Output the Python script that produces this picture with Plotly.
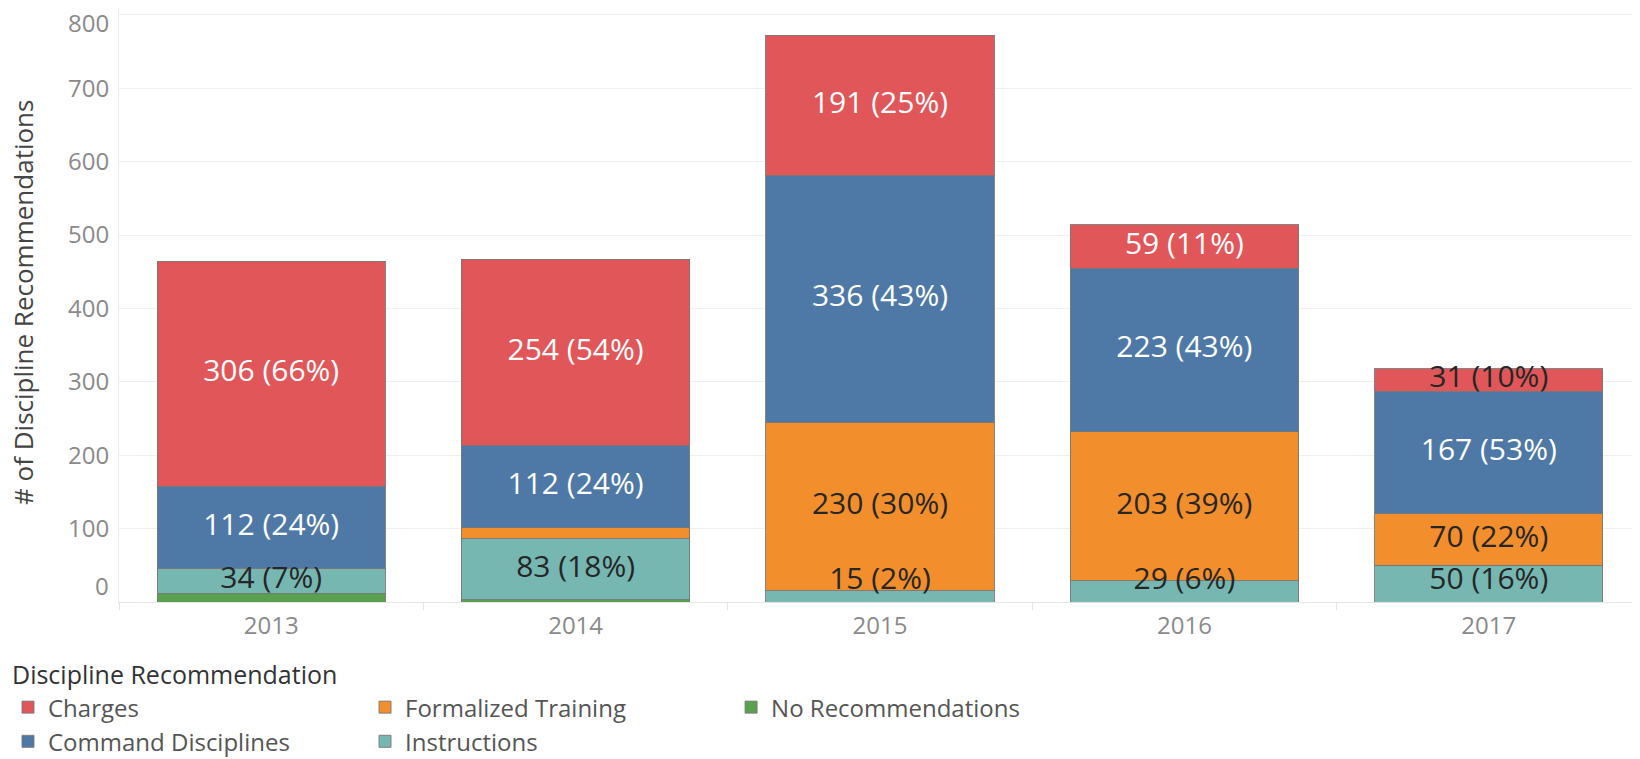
import plotly.graph_objects as go

# ---- data ----
years = ["2013", "2014", "2015", "2016", "2017"]

no_rec = [12, 3, None, None, None]
instructions = [34, 83, 15, 29, 50]
formalized = [None, 15, 230, 203, 70]
command = [112, 112, 336, 223, 167]
charges = [306, 254, 191, 59, 31]

# percentage labels as shown on the bars (None = no label shown)
pct_no_rec = [None, None, None, None, None]
pct_instructions = [7, 18, 2, 6, 16]
pct_formalized = [None, None, 30, 39, 22]
pct_command = [24, 24, 43, 43, 53]
pct_charges = [66, 54, 25, 11, 10]

y_ticks = [0, 100, 200, 300, 400, 500, 600, 700, 800]

# ---- styling ----
FONT = "Open Sans"
TICK_FONT = dict(family=FONT, size=24, color="#8a8a8a")
series = [
    ("No Recommendations", no_rec, pct_no_rec, "#59A14F", "legend3"),
    ("Instructions", instructions, pct_instructions, "#76B7B2", "legend2"),
    ("Formalized Training", formalized, pct_formalized, "#F28E2B", "legend2"),
    ("Command Disciplines", command, pct_command, "#4E79A7", "legend"),
    ("Charges", charges, pct_charges, "#E15759", "legend"),
]
light_text = {"Command Disciplines", "Charges"}

fig = go.Figure()
for name, vals, _, color, lg in series:
    fig.add_trace(go.Bar(
        x=years, y=vals, name=name, legend=lg,
        marker=dict(color=color, line=dict(color="rgba(120,120,120,0.9)", width=1)),
        hoverinfo="skip",
    ))

# labels centred in each segment, kept above the axis for small bottom segments
base = [0] * len(years)
lx, ly, lt, lc = [], [], [], []
for name, vals, pcts, color, lg in series:
    for i, v in enumerate(vals):
        if v is None:
            continue
        if pcts[i] is not None:
            mid = base[i] + v / 2
            lx.append(years[i])
            ly.append(max(mid, 28))
            lt.append(f"{v} ({pcts[i]}%)")
            dark = name not in light_text or (name == "Charges" and v < 40)
            lc.append("#262626" if dark else "#ffffff")
        base[i] += v

fig.add_trace(go.Scatter(
    x=lx, y=ly, text=lt, mode="text", showlegend=False, hoverinfo="skip",
    textfont=dict(family=FONT, size=30, color=lc), cliponaxis=False,
))

leg_common = dict(xref="container", yref="container", y=0.108,
                  xanchor="left", yanchor="top", orientation="v",
                  traceorder="reversed", font=dict(size=24, color="#555555"),
                  bgcolor="rgba(0,0,0,0)")

# edge tick labels are nudged inward (as in the reference) via annotations
y_lo, y_hi = y_ticks[0], y_ticks[-1]
tick_text = ["" if t in (y_lo, y_hi) else str(t) for t in y_ticks]
edge_labels = [
    dict(text=str(y_hi), xref="paper", yref="y", x=0, y=y_hi, xanchor="right",
         yanchor="middle", xshift=-8, yshift=-8, showarrow=False, font=TICK_FONT),
    dict(text=str(y_lo), xref="paper", yref="y", x=0, y=y_lo, xanchor="right",
         yanchor="middle", xshift=-8, yshift=17, showarrow=False, font=TICK_FONT),
]

fig.update_layout(
    width=1640, height=759,
    margin=dict(l=111, r=7, t=0, b=165, autoexpand=False),
    barmode="stack", bargap=0.25,
    plot_bgcolor="white", paper_bgcolor="white",
    font=dict(family=FONT, color="#555555"),
    xaxis=dict(
        type="category", range=[-0.5, 4.5],
        tickfont=TICK_FONT,
        ticks="outside", tickson="boundaries", ticklen=7, tickcolor="#e4e4e4",
        ticklabelstandoff=2,
        showgrid=False, showline=True, linecolor="#e4e4e4", linewidth=1,
    ),
    yaxis=dict(
        range=[0, 809.3], tickvals=y_ticks, ticktext=tick_text,
        tickfont=TICK_FONT,
        ticklabelstandoff=4, ticklabeloverflow="allow",
        showgrid=True, gridcolor="#f0f0f0", gridwidth=1,
        zeroline=True, zerolinecolor="#e4e4e4", zerolinewidth=1,
        showline=True, linecolor="#ececec", linewidth=1,
    ),
    legend=dict(x=0.0, **leg_common),
    legend2=dict(x=0.2177, **leg_common),
    legend3=dict(x=0.4409, **leg_common),
    annotations=[
        dict(text="Discipline Recommendation", xref="paper", yref="paper",
             x=-0.0716, y=-0.122, xanchor="left", yanchor="middle", showarrow=False,
             font=dict(size=25, color="#333333")),
        dict(text="# of Discipline Recommendations", xref="paper", yref="paper",
             x=-0.0631, y=0.505, xanchor="center", yanchor="middle", showarrow=False,
             textangle=-90, font=dict(size=26, color="#444444")),
    ] + edge_labels,
)

fig.write_html("out.html")
